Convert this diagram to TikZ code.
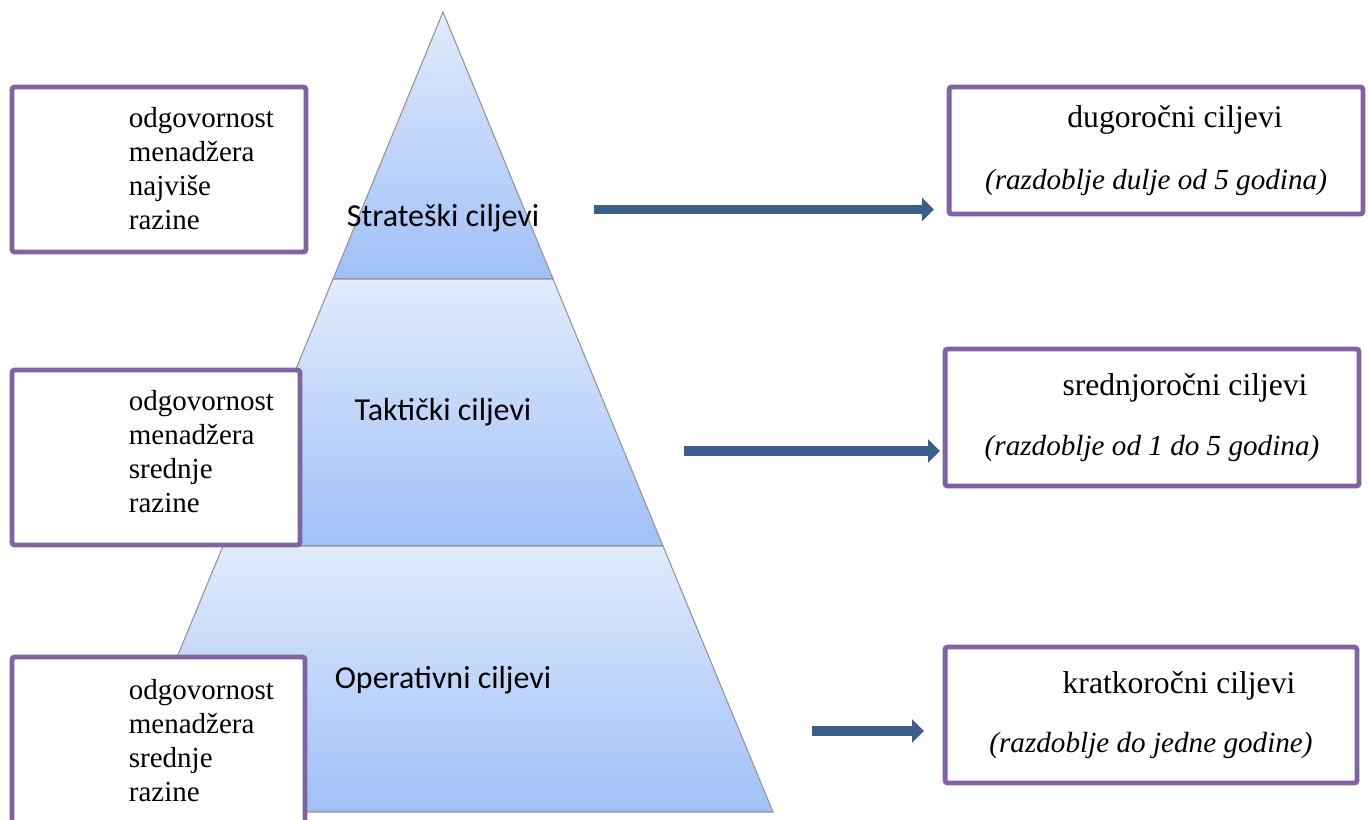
\documentclass[tikz,border=0pt]{standalone}
\usepackage{fontspec}
\setmainfont{Liberation Serif}
\newfontfamily\calibri{Carlito}
\usetikzlibrary{positioning, arrows.meta}
\definecolor{boxpurple}{RGB}{128,100,162}
\definecolor{arrowblue}{RGB}{59,94,140}
\definecolor{pyrlight}{RGB}{225,235,252}
\definecolor{pyrdark}{RGB}{160,192,247}
\tikzstyle{leftbox} = [rectangle, rounded corners=1.5pt, draw=boxpurple,
line width=2.8pt, fill=white]
\tikzstyle{lefttext} = [inner sep=0pt, align=left,
font=\fontsize{16.5pt}{19.2pt}\selectfont]
\tikzstyle{goalbox} = [rectangle, rounded corners=1.5pt, draw=boxpurple,
line width=2.8pt, fill=white, align=center, font=\fontsize{16.6pt}{20pt}\selectfont]
\tikzstyle{layer} = [draw=gray!85, line width=0.6pt, top color=pyrlight,
bottom color=pyrdark]
\tikzstyle{layertext} = [font=\calibri\fontsize{18.2pt}{21pt}\selectfont]
\tikzstyle{arrow} = [draw=arrowblue, line width=5.6pt,
-{Triangle[length=0.24cm, width=0.46cm, fill=arrowblue]}]
\newcommand{\goalhead}[1]{{\fontsize{18pt}{21pt}\selectfont #1}}

\begin{document}
\begin{tikzpicture}[x=0.02cm, y=-0.02cm]
\useasboundingbox (0,0) rectangle (1368,819);

\coordinate(apex) at (443,12);
\path[layer](apex) -- (553,279) -- (333,279) -- cycle;
\path[layer](333,279) -- (553,279) -- (663,546) -- (223,546) -- cycle;
\path[layer](223,546) -- (663,546) -- (773,812) -- (113,812) -- cycle;

\node(strat)[layertext] at (443,218) {Strateški ciljevi};
\node(takt)[layertext] at (443,412) {Taktički ciljevi};
\node(oper)[layertext] at (443,680) {Operativni ciljevi};

\node(lbtop)[leftbox, minimum width=5.88cm, minimum height=3.3cm] at (159,169.5) {};
\node(lbmid)[leftbox, minimum width=5.76cm, minimum height=3.5cm] at (156,457.5) {};
\node(lbbot)[leftbox, minimum width=5.86cm, minimum height=3.56cm] at (158.5,746) {};
\node(lttop)[lefttext, right=2.38cm of lbtop.west, yshift=0.02cm]{odgovornost\\menadžera\\najviše\\razine};
\node(ltmid)[lefttext, right=2.38cm of lbmid.west, yshift=0.12cm]{odgovornost\\menadžera\\srednje\\razine};
\node(ltbot)[lefttext, right=2.38cm of lbbot.west, yshift=0.11cm]{odgovornost\\menadžera\\srednje\\razine};

\node(dugo)[goalbox, minimum width=8.28cm, minimum height=2.54cm] at (1156,150.5)
{\hspace*{0.76cm}\goalhead{dugoročni ciljevi}\\[0.55cm]\textit{(razdoblje dulje od 5 godina)}};
\node(sred)[goalbox, minimum width=8.28cm, minimum height=2.74cm] at (1152,417.5)
{\hspace*{1.32cm}\goalhead{srednjoročni ciljevi}\\[0.5cm]\textit{(razdoblje od 1 do 5 godina)}};
\node(krat)[goalbox, minimum width=8.24cm, minimum height=2.72cm] at (1151,715)
{\hspace*{1.12cm}\goalhead{kratkoročni ciljevi}\\[0.48cm]\textit{(razdoblje do jedne godine)}};

\coordinate(sdugo) at (594,209.5);
\coordinate(edugo) at (934,209.5);
\coordinate(ssred) at (684,451);
\coordinate(esred) at (940,451);
\coordinate(skrat) at (812,731);
\coordinate(ekrat) at (924,731);
\draw[arrow](sdugo) -- (edugo);
\draw[arrow](ssred) -- (esred);
\draw[arrow](skrat) -- (ekrat);

\end{tikzpicture}
\end{document}
